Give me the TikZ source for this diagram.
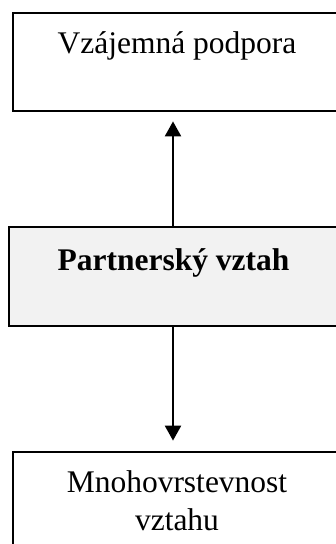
\documentclass[tikz,border=0pt]{standalone}
\usepackage{fontspec}
\setmainfont{Liberation Serif}
\usetikzlibrary{arrows.meta}
\begin{document}
\begin{tikzpicture}[x=1pt,y=-1pt,
  box/.style={draw=black,line width=2.8pt,rectangle,inner sep=0pt},
  lbl/.style={inner sep=0pt,anchor=base,font=\fontsize{31.5}{38}\selectfont,align=center},
  conn/.style={line width=2.3pt,-{Triangle[length=15pt,width=16pt]}}]
\useasboundingbox (0,0) rectangle (335,544);
\node[box,minimum width=328pt,minimum height=98pt] (top) at (177,62) {};
\node[box,fill={rgb,255:red,242;green,242;blue,242},minimum width=329pt,minimum height=99pt] (mid) at (173.5,276.5) {};
\node[box,minimum width=328pt,minimum height=120pt] (bot) at (177,512) {};
\node[lbl] (ttop) at (177,53) {Vzájemná podpora};
\node[lbl,font=\fontsize{31.5}{38}\selectfont\bfseries] (tmid) at (173.5,270) {Partnerský vztah};
\node[lbl] (tbot) at (177,530) {Mnohovrstevnost\\vztahu};
\coordinate (ax) at (173,0);
\draw[conn,shorten >=9pt] (mid.north -| ax) -- (top.south -| ax);
\draw[conn,shorten >=10pt] (mid.south -| ax) -- (bot.north -| ax);
\end{tikzpicture}
\end{document}
